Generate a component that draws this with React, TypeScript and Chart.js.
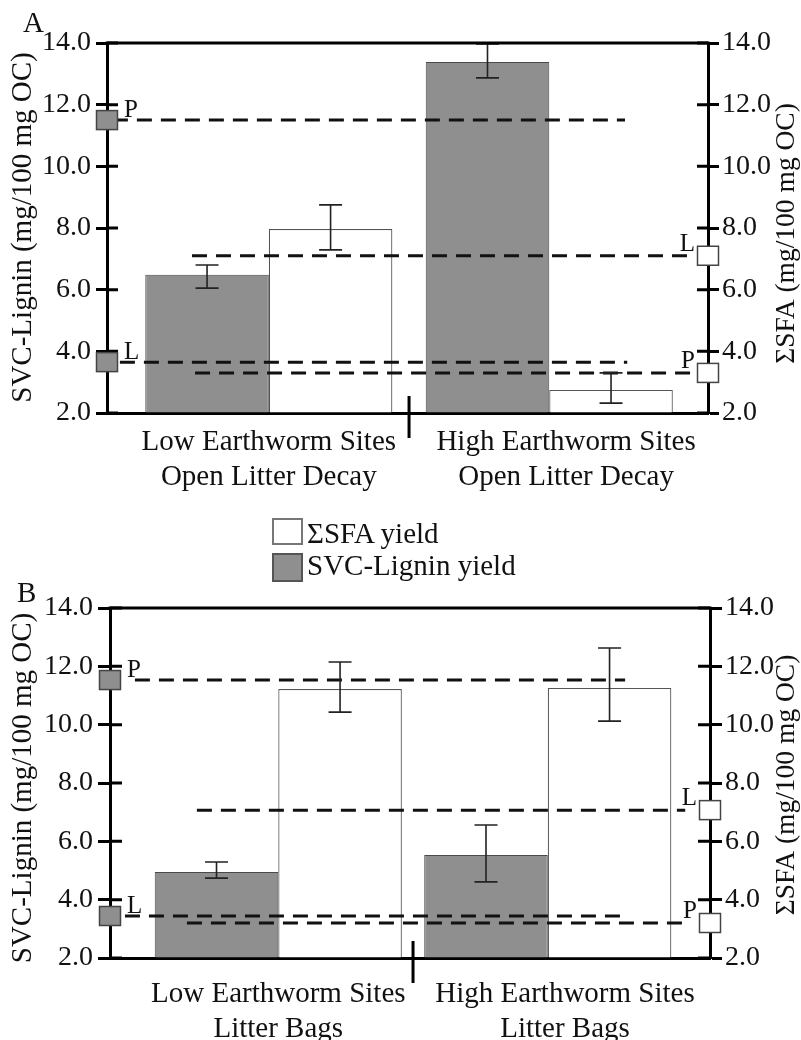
import React, { useEffect, useRef } from 'react';
import { Chart, registerables } from 'chart.js';

Chart.register(...registerables);

const FONT = '"Liberation Serif", "Times New Roman", Times, serif';
const GRAY = '#8f8f8f';
const INK = '#111111';

// ---------- data ----------
const seriesNames = ['SVC-Lignin yield', 'ΣSFA yield'];
const legendOrder = ['ΣSFA yield', 'SVC-Lignin yield'];
const leftTitle = 'SVC-Lignin (mg/100 mg OC)';
const rightTitle = 'ΣSFA (mg/100 mg OC)';
const yTicks = [2, 4, 6, 8, 10, 12, 14];
const refNames = ['P', 'L'];

// Panel A: open litter decay
const catsA = [
  ['Low Earthworm Sites', 'Open Litter Decay'],
  ['High Earthworm Sites', 'Open Litter Decay'],
];
const ligninA = [6.48, 13.38];
const ligninLoA = [6.05, 12.87];
const ligninHiA = [6.8, 13.97];
const sfaA = [7.97, 2.75];
const sfaLoA = [7.29, 2.32];
const sfaHiA = [8.75, 3.3];
const ligninRefA = [11.5, 3.65]; // P, L
const sfaRefA = [3.3, 7.1]; // P, L

// Panel B: litter bags
const catsB = [
  ['Low Earthworm Sites', 'Litter Bags'],
  ['High Earthworm Sites', 'Litter Bags'],
];
const ligninB = [4.95, 5.53];
const ligninLoB = [4.74, 4.61];
const ligninHiB = [5.29, 6.56];
const sfaB = [11.22, 11.26];
const sfaLoB = [10.43, 10.12];
const sfaHiB = [12.15, 12.63];
const ligninRefB = [11.53, 3.44]; // P, L
const sfaRefB = [3.2, 7.07]; // P, L

// ---------- layout / style (not data) ----------
type Panel = {
  letter: string;
  cats: string[][];
  lignin: number[]; ligLo: number[]; ligHi: number[];
  sfa: number[]; sfaLo: number[]; sfaHi: number[];
  ligRef: number[]; sfaRef: number[];
  top: number; height: number;
  area: { left: number; right: number; top: number; bottom: number };
  xMin: number; xMax: number; catPct: number; tickPos: number[]; labelPad: number;
  tickLen: number;
  letterPos: number[]; leftTitleY: number; rightTitleY: number;
  ligExt: number[][]; sfaExt: number[][];
};

const panelA: Panel = {
  letter: 'A', cats: catsA,
  lignin: ligninA, ligLo: ligninLoA, ligHi: ligninHiA,
  sfa: sfaA, sfaLo: sfaLoA, sfaHi: sfaHiA,
  ligRef: ligninRefA, sfaRef: sfaRefA,
  top: 0, height: 505,
  area: { left: 107, right: 708, top: 43, bottom: 413 },
  xMin: -0.577, xMax: 1.566, catPct: 0.881, tickPos: [0, 1.06], labelPad: 12,
  tickLen: 11,
  letterPos: [23, 32], leftTitleY: 227.5, rightTitleY: 233.5,
  ligExt: [[-0.556, 1.27], [-0.531, 1.278]],
  sfaExt: [[-0.263, 1.52], [-0.274, 1.52]],
};

const panelB: Panel = {
  letter: 'B', cats: catsB,
  lignin: ligninB, ligLo: ligninLoB, ligHi: ligninHiB,
  sfa: sfaB, sfaLo: sfaLoB, sfaHi: sfaHiB,
  ligRef: ligninRefB, sfaRef: sfaRefB,
  top: 560, height: 480,
  area: { left: 110, right: 710, top: 48, bottom: 398 },
  xMin: -0.6245, xMax: 1.602, catPct: 0.917, tickPos: [0, 1.064], labelPad: 19,
  tickLen: 12,
  letterPos: [17, 42], leftTitleY: 228, rightTitleY: 225,
  ligExt: [[-0.532, 1.287], [-0.569, 1.279]],
  sfaExt: [[-0.339, 1.51], [-0.302, 1.51]],
};

const W = 801;

function decorPlugin(p: Panel) {
  return {
    id: 'decor' + p.letter,
    afterDatasetsDraw(chart: any) {
      const { ctx } = chart;
      const x = chart.scales.x, yL = chart.scales.yL, yR = chart.scales.yR;
      ctx.save();
      // dashed reference lines
      ctx.setLineDash([15, 9]);
      ctx.lineWidth = 3;
      ctx.strokeStyle = INK;
      p.ligRef.forEach((v, i) => {
        const y = yL.getPixelForValue(v);
        ctx.beginPath();
        ctx.moveTo(x.getPixelForValue(p.ligExt[i][0]), y);
        ctx.lineTo(x.getPixelForValue(p.ligExt[i][1]), y);
        ctx.stroke();
      });
      p.sfaRef.forEach((v, i) => {
        const y = yR.getPixelForValue(v);
        ctx.beginPath();
        ctx.moveTo(x.getPixelForValue(p.sfaExt[i][0]), y);
        ctx.lineTo(x.getPixelForValue(p.sfaExt[i][1]), y);
        ctx.stroke();
      });
      ctx.setLineDash([]);
      // error bars
      const errs: any[] = [[p.ligLo, p.ligHi, yL], [p.sfaLo, p.sfaHi, yR]];
      errs.forEach(([lo, hi, sc], di) => {
        chart.getDatasetMeta(di).data.forEach((bar: any, j: number) => {
          const xc = bar.x;
          const yt = sc.getPixelForValue(hi[j]);
          const yb = sc.getPixelForValue(lo[j]);
          ctx.strokeStyle = '#222';
          ctx.lineWidth = 1.6;
          ctx.beginPath();
          ctx.moveTo(xc, yt); ctx.lineTo(xc, yb);
          ctx.moveTo(xc - 11.5, yt); ctx.lineTo(xc + 11.5, yt);
          ctx.moveTo(xc - 11.5, yb); ctx.lineTo(xc + 11.5, yb);
          ctx.stroke();
        });
      });
      ctx.restore();
    },
    afterDraw(chart: any) {
      const { ctx, chartArea: ca } = chart;
      const x = chart.scales.x, yL = chart.scales.yL, yR = chart.scales.yR;
      ctx.save();
      ctx.strokeStyle = '#000';
      ctx.lineWidth = 3;
      // top frame line
      ctx.beginPath();
      ctx.moveTo(ca.left - 1.5, ca.top);
      ctx.lineTo(ca.right + 1.5, ca.top);
      ctx.stroke();
      // inner tick marks
      yTicks.forEach((v) => {
        const yl = yL.getPixelForValue(v);
        const yr = yR.getPixelForValue(v);
        ctx.beginPath();
        ctx.moveTo(ca.left, yl); ctx.lineTo(ca.left + p.tickLen, yl);
        ctx.moveTo(ca.right - p.tickLen, yr); ctx.lineTo(ca.right, yr);
        ctx.stroke();
      });
      // category divider
      const xd = x.getPixelForValue(0.5);
      ctx.beginPath();
      ctx.moveTo(xd, ca.bottom - 17);
      ctx.lineTo(xd, ca.bottom + 25);
      ctx.stroke();
      // markers & labels
      ctx.font = `25px ${FONT}`;
      ctx.textBaseline = 'alphabetic';
      p.ligRef.forEach((v, i) => {
        const y = yL.getPixelForValue(v);
        ctx.fillStyle = GRAY;
        ctx.fillRect(ca.left - 10.5, y - 9.5, 21, 19);
        ctx.strokeStyle = '#444';
        ctx.lineWidth = 1.5;
        ctx.strokeRect(ca.left - 10.5, y - 9.5, 21, 19);
        ctx.fillStyle = INK;
        ctx.textAlign = 'left';
        ctx.fillText(refNames[i], ca.left + 17, y - 3);
      });
      p.sfaRef.forEach((v, i) => {
        const y = yR.getPixelForValue(v);
        ctx.fillStyle = '#fff';
        ctx.fillRect(ca.right - 10.5, y - 9.5, 21, 19);
        ctx.strokeStyle = '#444';
        ctx.lineWidth = 1.5;
        ctx.strokeRect(ca.right - 10.5, y - 9.5, 21, 19);
        ctx.fillStyle = INK;
        ctx.textAlign = 'right';
        ctx.fillText(refNames[i], ca.right - 13, y - 5);
      });
      // axis titles (both read bottom-to-top)
      ctx.fillStyle = INK;
      ctx.textAlign = 'center';
      ctx.textBaseline = 'middle';
      ctx.save();
      ctx.translate(23, p.leftTitleY);
      ctx.rotate(-Math.PI / 2);
      ctx.font = `29px ${FONT}`;
      ctx.fillText(leftTitle, 0, 0);
      ctx.restore();
      ctx.save();
      ctx.translate(786.5, p.rightTitleY);
      ctx.rotate(-Math.PI / 2);
      ctx.font = `27.5px ${FONT}`;
      ctx.fillText(rightTitle, 0, 0);
      ctx.restore();
      // panel letter
      ctx.font = `29px ${FONT}`;
      ctx.textAlign = 'left';
      ctx.textBaseline = 'alphabetic';
      ctx.fillText(p.letter, p.letterPos[0], p.letterPos[1]);
      ctx.restore();
    },
  };
}

function yAxis(p: Panel, side: 'left' | 'right') {
  return {
    type: 'linear',
    position: side,
    min: 2,
    max: 14,
    afterBuildTicks: (s: any) => { s.ticks = yTicks.map((v) => ({ value: v })); },
    afterFit: (s: any) => { s.width = side === 'left' ? p.area.left : W - p.area.right; },
    grid: { drawOnChartArea: false, drawTicks: true, tickLength: p.tickLen, tickWidth: 3, tickColor: '#000' },
    border: { display: true, width: 3, color: '#000' },
    ticks: {
      padding: side === 'left' ? 5 : 3,
      color: INK,
      font: { family: FONT, size: 28 },
      callback: (v: any) => Number(v).toFixed(1),
    },
  };
}

function PanelChart({ p }: { p: Panel }) {
  const ref = useRef<HTMLCanvasElement>(null);
  useEffect(() => {
    const chart = new Chart(ref.current as HTMLCanvasElement, {
      type: 'bar',
      data: {
        datasets: [
          {
            label: seriesNames[0],
            data: p.lignin.map((v, i) => ({ x: i, y: v })),
            yAxisID: 'yL',
            backgroundColor: GRAY,
            borderColor: '#4a4a4a',
            borderWidth: 1,
            base: 2,
            barPercentage: 1,
            categoryPercentage: p.catPct,
          },
          {
            label: seriesNames[1],
            data: p.sfa.map((v, i) => ({ x: i, y: v })),
            yAxisID: 'yR',
            backgroundColor: '#ffffff',
            borderColor: '#555',
            borderWidth: 1.2,
            base: 2,
            barPercentage: 1,
            categoryPercentage: p.catPct,
          },
        ],
      } as any,
      options: {
        responsive: false,
        animation: false,
        layout: { padding: { top: p.area.top, left: 0, right: 0, bottom: 0 } },
        plugins: { legend: { display: false }, tooltip: { enabled: false } },
        scales: {
          x: {
            type: 'linear',
            offset: false,
            bounds: 'data',
            min: p.xMin,
            max: p.xMax,
            afterBuildTicks: (s: any) => { s.ticks = p.tickPos.map((v) => ({ value: v })); },
            afterFit: (s: any) => { s.height = p.height - p.area.bottom; },
            grid: { display: true, offset: false, drawOnChartArea: false, drawTicks: false },
            border: { display: true, width: 3, color: '#000' },
            ticks: {
              autoSkip: false,
              maxRotation: 0,
              minRotation: 0,
              padding: p.labelPad,
              color: INK,
              font: { family: FONT, size: 29, lineHeight: 1.2 },
              callback: (_v: any, i: number) => p.cats[i],
            },
          },
          yL: yAxis(p, 'left'),
          yR: yAxis(p, 'right'),
        } as any,
      },
      plugins: [decorPlugin(p)],
    });
    return () => chart.destroy();
  }, []);
  return (
    <canvas
      ref={ref}
      width={W}
      height={p.height}
      style={{ position: 'absolute', left: 0, top: p.top, width: W, height: p.height }}
    />
  );
}

const legendBox = (fill: string, border: string, top: number, h: number): React.CSSProperties => ({
  position: 'absolute', left: 272, top, width: 27, height: h,
  background: fill, border: `2px solid ${border}`,
});
const legendText = (top: number): React.CSSProperties => ({
  position: 'absolute', left: 307, top, fontFamily: FONT, fontSize: 29,
  lineHeight: '29px', color: INK, whiteSpace: 'nowrap',
});

export default function App() {
  return (
    <div style={{ position: 'absolute', left: 0, top: 0, width: W, height: 1040, overflow: 'hidden', background: '#fff' }}>
      <PanelChart p={panelA} />
      <PanelChart p={panelB} />
      <div style={legendBox('#ffffff', '#777', 518, 23)} />
      <div style={legendText(519)}>{legendOrder[0]}</div>
      <div style={legendBox(GRAY, '#555', 553, 25)} />
      <div style={legendText(551)}>{legendOrder[1]}</div>
    </div>
  );
}
